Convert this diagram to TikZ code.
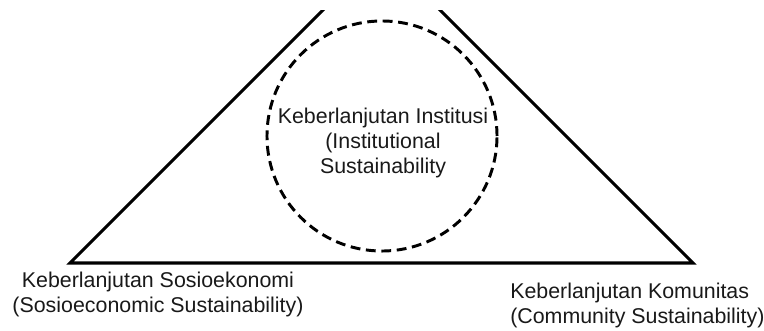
\documentclass[tikz,border=0pt]{standalone}
\usepackage{fontspec}
\setmainfont{Liberation Sans}

\begin{document}
\begin{tikzpicture}[x=0.025cm,y=-0.025cm,
  caption/.style={font=\fontsize{15.2}{17.8}\selectfont,text=black!90,inner sep=0pt}]
\useasboundingbox (0,0) rectangle (764,330);

\begin{scope}
\clip (0,10) rectangle (764,330);
\coordinate (sosio) at (70,263);
\coordinate (komun) at (693,263);
\coordinate (apex)  at (381.5,-48.5);
\draw[line width=2.2pt] (sosio) -- (apex) -- (komun) -- cycle;
\end{scope}

\draw (382,136) node (inst) [draw,shape=circle,minimum size=5.75cm,line width=2.1pt,dash pattern=on 7pt off 4pt] {};

\node (insttext) [caption,align=center] at (383,143) {Keberlanjutan Institusi\\(Institutional\\Sustainability};
\node (sosiotext) [caption,align=center] at (158,294.5) {Keberlanjutan Sosioekonomi\\(Sosioeconomic Sustainability)};
\node (komuntext) [caption,align=left,anchor=west] at (510,305.5) {Keberlanjutan Komunitas\\(Community Sustainability)};

\end{tikzpicture}
\end{document}
